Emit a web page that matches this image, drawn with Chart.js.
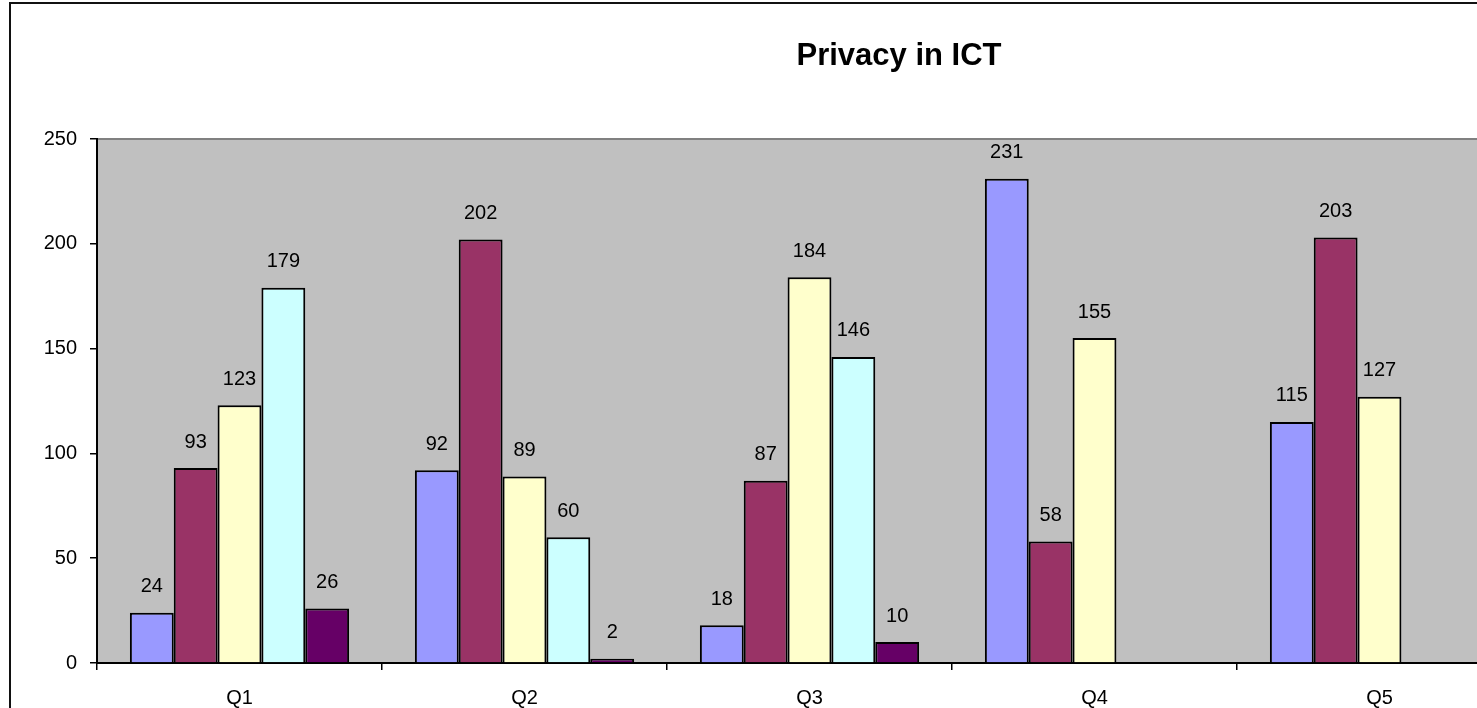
<!DOCTYPE html>
<html>
<head>
<meta charset="utf-8">
<title>Privacy in ICT</title>
<script src="https://cdn.jsdelivr.net/npm/chart.js@4.4.1/dist/chart.umd.min.js"></script>
<style>
  html, body { margin: 0; padding: 0; background: #fff; overflow: hidden; }
  #wrap { position: absolute; left: 0; top: 0; width: 1800px; height: 760px; }
</style>
</head>
<body>
<div id="wrap"><canvas id="myChart" width="1800" height="760"></canvas></div>
<script>
// chart data
var titleText = "Privacy in ICT";
var categories = ["Q1", "Q2", "Q3", "Q4", "Q5"];
var series1 = [24, 92, 18, 231, 115];
var series2 = [93, 202, 87, 58, 203];
var series3 = [123, 89, 184, 155, 127];
var series4 = [179, 60, 146, null, null];
var series5 = [26, 2, 10, null, null];
var yTicks = [0, 50, 100, 150, 200, 250];

var seriesList = [series1, series2, series3, series4, series5];
var seriesColors = ["#9999FF", "#993366", "#FFFFCC", "#CCFFFF", "#660066"];
var fontFamily = "'Liberation Sans', Arial, sans-serif";

var datasets = [];
for (let i = 0; i < seriesList.length; i++) {
  datasets.push({
    label: "Series" + (i + 1),
    data: seriesList[i],
    backgroundColor: seriesColors[i],
    borderColor: "#000",
    borderWidth: 2,
    borderSkipped: "bottom",
    categoryPercentage: 5 / 6.5,
    barPercentage: 1,
  });
}

// plot background, frame, title and value labels (excel style)
var excelLook = {
  id: "excelLook",
  beforeDraw: function (chart) {
    var ctx = chart.ctx;
    var a = chart.chartArea;
    ctx.save();
    ctx.fillStyle = "#fff";
    ctx.fillRect(0, 0, chart.width, chart.height);
    ctx.fillStyle = "#C0C0C0";
    ctx.fillRect(a.left, a.top, a.right - a.left, a.bottom - a.top);
    ctx.strokeStyle = "#808080";
    ctx.lineWidth = 2;
    ctx.strokeRect(a.left, a.top, a.right - a.left, a.bottom - a.top);
    // outer frame
    ctx.strokeStyle = "#111";
    ctx.lineWidth = 2;
    ctx.strokeRect(10, 3, 1778, 820);
    // title
    ctx.fillStyle = "#000";
    ctx.font = "bold 31px " + fontFamily;
    ctx.textAlign = "center";
    ctx.textBaseline = "alphabetic";
    ctx.fillText(titleText, 899, 65);
    ctx.restore();
  },
  afterDatasetsDraw: function (chart) {
    var ctx = chart.ctx;
    ctx.save();
    ctx.fillStyle = "#000";
    ctx.font = "20px " + fontFamily;
    ctx.textAlign = "center";
    ctx.textBaseline = "middle";
    chart.data.datasets.forEach(function (ds, i) {
      var meta = chart.getDatasetMeta(i);
      meta.data.forEach(function (bar, j) {
        var v = ds.data[j];
        if (v === null || v === undefined) return;
        ctx.fillText(String(v), bar.x, bar.y - 26);
      });
    });
    ctx.restore();
  },
};

var ctx = document.getElementById("myChart");

new Chart(ctx, {
  type: "bar",
  data: {
    labels: categories,
    datasets: datasets,
  },
  plugins: [excelLook],
  options: {
    responsive: false,
    animation: false,
    layout: {
      padding: { top: 139, right: 278, left: 0, bottom: 0 },
    },
    plugins: {
      legend: { display: false },
      title: { display: false },
      tooltip: { enabled: false },
    },
    scales: {
      x: {
        grid: {
          display: true,
          offset: true,
          drawOnChartArea: false,
          tickLength: 7,
          color: "#000",
          lineWidth: 1.5,
        },
        border: { display: true, color: "#000", width: 2 },
        ticks: {
          color: "#000",
          font: { family: fontFamily, size: 20 },
          padding: 16,
        },
        afterFit: function (scale) {
          scale.height = 97;
        },
      },
      y: {
        min: yTicks[0],
        max: yTicks[yTicks.length - 1],
        grid: {
          display: true,
          drawOnChartArea: false,
          tickLength: 7,
          color: "#000",
          lineWidth: 1.5,
        },
        border: { display: true, color: "#000", width: 2 },
        ticks: {
          stepSize: yTicks[1] - yTicks[0],
          color: "#000",
          font: { family: fontFamily, size: 20 },
          padding: 13,
        },
        afterFit: function (scale) {
          scale.width = 97;
        },
      },
    },
  },
});
</script>
</body>
</html>
